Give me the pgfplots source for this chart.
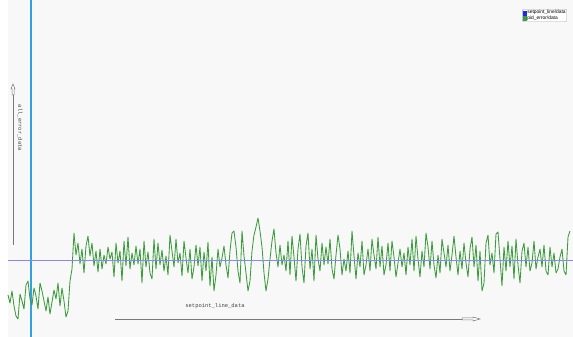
\documentclass[border=0pt]{standalone}
\usepackage{fontspec}
\setmainfont{Liberation Sans}
\newfontfamily\monofont{Liberation Mono}
\usepackage{pgfplots}
\pgfplotsset{compat=1.18}
\usepackage{pgfplotstable}

\definecolor{bgpanel}{RGB}{248,248,248}
\definecolor{errgreen}{RGB}{60,155,60}
\definecolor{splineblue}{RGB}{135,135,250}
\definecolor{legblue}{RGB}{30,40,230}
\definecolor{cursorblue}{RGB}{50,160,225}
\definecolor{arrowgray}{RGB}{120,120,120}

% pid error samples (sample index, error)
\pgfplotstableread{
x y
8 -34
10 -42
12 -30
14 -45
16 -55
18 -58
20 -33
22 -40
24 -48
26 -24
28 -20
30 -38
32 -44
34 -27
36 -35
38 -48
40 -22
42 -30
44 -40
46 -50
48 -36
50 -53
52 -41
54 -29
56 -38
58 -22
60 -45
62 -27
64 -40
66 -56
68 -50
69 -35
70 -20
72 -8
73 10
74 28
76 6
78 18
80 -3
82 12
84 -12
86 15
88 25
90 5
92 18
94 -5
96 10
98 -11
100 12
102 -8
104 6
106 -3
108 14
110 2
112 9
114 -16
116 18
118 -2
120 10
122 -20
124 20
126 -5
128 24
130 -8
132 8
134 -4
136 15
138 -3
140 12
142 -22
144 20
146 -6
148 9
150 -12
152 -18
154 22
156 -8
158 18
160 -4
162 11
164 -10
166 5
168 -14
170 26
172 10
174 -6
176 22
178 -2
180 8
182 -15
184 20
186 3
188 -12
190 12
192 -18
194 -6
196 16
198 -5
200 14
202 -20
204 9
206 -10
208 19
210 -25
212 4
214 -30
216 -14
218 12
220 -6
222 3
224 15
226 -4
228 -17
230 10
232 28
234 30
236 14
238 -10
240 -22
242 30
244 5
246 -12
248 -30
250 -20
252 10
254 26
256 34
258 43
260 30
262 14
264 -12
266 -30
268 -18
270 2
272 20
274 32
276 8
278 -6
280 16
282 -4
284 6
286 -10
288 20
290 -14
292 25
294 4
296 -20
298 12
300 27
302 -6
304 -22
306 15
308 28
310 -8
312 12
314 -20
316 26
318 2
320 -10
322 18
324 -4
326 14
328 -3
330 22
332 -8
334 -18
336 6
338 26
340 12
342 -14
344 2
346 -10
348 10
350 -12
352 30
354 5
356 -18
358 8
360 -6
362 20
364 -14
366 -4
368 12
370 -10
372 22
374 6
376 -8
378 24
380 -6
382 15
384 -14
386 -4
388 18
390 -10
392 20
394 4
396 -16
398 -2
400 12
402 -6
404 8
406 -14
408 14
410 -4
412 22
414 -10
416 25
418 2
420 -16
422 10
424 -6
426 28
428 14
430 -8
432 20
434 -4
436 -17
438 6
440 -12
442 22
444 8
446 -6
448 16
450 -10
452 6
454 25
456 4
458 -14
460 10
462 -8
464 18
466 -2
468 -16
470 12
472 24
474 -6
476 16
478 -20
480 10
482 -30
484 -22
486 18
488 26
490 -4
492 8
494 -12
496 27
498 29
500 2
502 -25
504 14
506 -10
508 20
510 -6
512 15
514 -18
516 22
518 -4
520 -22
522 10
524 18
526 -6
528 14
530 -10
532 -2
534 20
536 -8
538 4
540 12
542 -6
544 16
546 -10
548 -14
550 14
552 -6
554 8
556 -12
558 -8
560 4
562 12
564 -10
566 -14
568 24
570 30
}\errdata

\begin{document}
\begin{tikzpicture}
% panel background
\fill[bgpanel] (0,0) rectangle (573bp,337bp);
\fill[white] (0,0) rectangle (8bp,337bp);
\begin{axis}[
  scale only axis,
  width=573bp, height=337bp,
  xmin=0, xmax=573, ymin=-76, ymax=261,
  axis line style={draw=none},
  ticks=none,
  clip=true,
  legend cell align=left,
  legend style={
    at={(rel axis cs:0.9895,0.973)}, anchor=north east,
    font=\fontsize{4.9}{5.2}\selectfont,
    draw=gray!70, rounded corners=1bp, fill=white,
    inner sep=0.5bp, row sep=-1bp,
    nodes={inner sep=0.6bp},
  },
  legend image code/.code={\fill[#1, sharp corners] (0bp,-1.8bp) rectangle (3.6bp,1.8bp);},
]
% cursor
\addplot[draw=cursorblue, line width=1.4bp, forget plot] coordinates {(31,-80) (31,265)};
% error trace
\addplot[draw=errgreen, line width=0.85bp, line join=round, forget plot] table[x=x, y=y] {\errdata};
% setpoint line
\addplot[draw=splineblue, line width=0.7bp, forget plot] coordinates {(8,0.3) (573,0.3)};

\addlegendimage{legblue}
\addlegendentry{setpoint\_line/data}
\addlegendimage{errgreen}
\addlegendentry{pid\_error/data}

% axis arrows with their captions
\draw[arrowgray, line width=0.6bp] (115,-58) -- (462,-58);
\draw[arrowgray, line width=0.5bp, fill=white]
  (462,-57) -- (473,-57) -- (473,-56) -- (480,-58) -- (473,-60) -- (473,-59) -- (462,-59) -- cycle;
\node[font=\monofont\fontsize{5.5}{6}\selectfont, text=black!75] at (215,-45) {setpoint\_line\_data};

\draw[arrowgray, line width=0.6bp] (13,16) -- (13,166);
\draw[arrowgray, line width=0.5bp, fill=white]
  (12,166) -- (12,172) -- (11,172) -- (13,177) -- (15,172) -- (14,172) -- (14,166) -- cycle;
\node[font=\monofont\fontsize{5.5}{6}\selectfont, text=black!75, rotate=-90] at (20,133) {all\_error\_data};
\end{axis}
\end{tikzpicture}
\end{document}
